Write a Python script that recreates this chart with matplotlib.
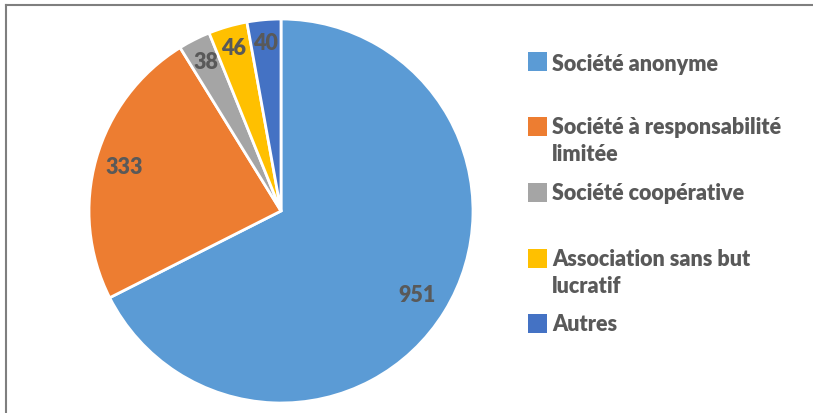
import numpy as np
import matplotlib.pyplot as plt
from matplotlib.patches import Rectangle
from matplotlib.lines import Line2D

categories = ['Société anonyme', 'Société à responsabilité\nlimitée', 'Société coopérative',
              'Association sans but\nlucratif', 'Autres']
values = [951, 333, 38, 46, 40]
colors = ['#5B9BD5', '#ED7D31', '#A5A5A5', '#FFC000', '#4472C4']
label_dist = [0.83, 0.85, 0.87, 0.885, 0.88]

txt_color = '#595959'
font = dict(family='Lato', fontweight='heavy', fontsize=15.5, color=txt_color)

W, H = 813, 414
fig = plt.figure(figsize=(W / 100, H / 100), dpi=100)

# pie: centre (281, 212) px, radius 192 px
cx, cy, r = 281, 212, 192
ax = fig.add_axes([(cx - r) / W, (H - cy - r) / H, 2 * r / W, 2 * r / H])
wedges, _ = ax.pie(values, colors=colors, startangle=90, counterclock=False,
                   radius=1.0, wedgeprops=dict(edgecolor='white', linewidth=2))
ax.set_xlim(-1, 1)
ax.set_ylim(-1, 1)
ax.set_aspect('equal')
ax.axis('off')

for w, v, d in zip(wedges, values, label_dist):
    ang = np.deg2rad((w.theta1 + w.theta2) / 2)
    ax.text(d * np.cos(ang), d * np.sin(ang), str(v), ha='center', va='center', **font)

# legend, placed by hand like the Excel layout
leg_y = [62, 127.5, 193.5, 259.5, 324.5]   # square centres (px from top)
base_y = [71, 134, 200.5, 266, 331]         # first-line baselines
sq = 19
for lab, col, y, b in zip(categories, colors, leg_y, base_y):
    fig.patches.append(Rectangle((528 / W, (H - y - sq / 2) / H), sq / W, sq / H,
                                 transform=fig.transFigure, facecolor=col,
                                 edgecolor='none'))
    for i, line in enumerate(lab.split('\n')):
        fig.text(552 / W, (H - b - i * 27) / H, line, ha='left', va='baseline',
                 transform=fig.transFigure, **font)

# cropped frame (only top and left edges visible)
fig.lines.append(Line2D([6 / W, 1], [1 - 6 / H, 1 - 6 / H], transform=fig.transFigure,
                        color='#7F7F7F', linewidth=1.5))
fig.lines.append(Line2D([6 / W, 6 / W], [0, 1 - 6 / H], transform=fig.transFigure,
                        color='#7F7F7F', linewidth=1.5))

fig.savefig('out.png', dpi=100)
